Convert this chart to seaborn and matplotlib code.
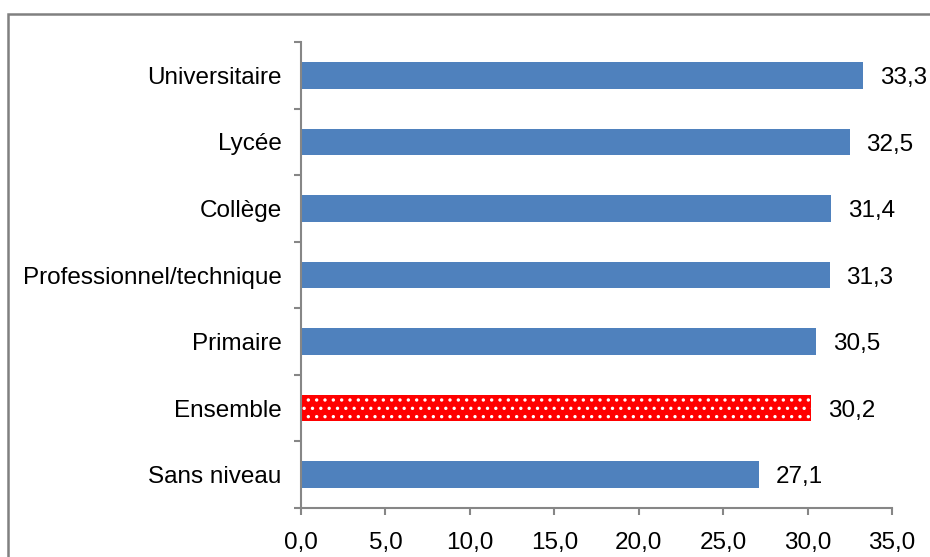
import matplotlib
matplotlib.use("Agg")
import matplotlib.pyplot as plt
import seaborn as sns
import numpy as np
from matplotlib.patches import Rectangle

categories = ["Universitaire", "Lycée", "Collège", "Professionnel/technique",
              "Primaire", "Ensemble", "Sans niveau"]
values = [33.3, 32.5, 31.4, 31.3, 30.5, 30.2, 27.1]
x_ticks = [0, 5, 10, 15, 20, 25, 30, 35]

blue = "#4F81BD"
red = "#FF0000"
grey = "#868686"
fs = 17.5

sns.set_theme(style="white")
plt.rcParams["font.family"] = ["Liberation Sans", "DejaVu Sans"]
plt.rcParams["hatch.linewidth"] = 1.2

fig = plt.figure(figsize=(9.3, 5.57), dpi=100)
ax = fig.add_axes([301 / 930, 1 - 508 / 557, 591 / 930, 466 / 557])

colors = [red if c == "Ensemble" else blue for c in categories]
sns.barplot(x=values, y=categories, hue=categories, palette=colors,
            legend=False, width=0.4, saturation=1, ax=ax, linewidth=0)

# dotted pattern on the "Ensemble" bar
for patch, cat in zip(ax.patches, categories):
    if cat == "Ensemble":
        patch.set_hatch("..")
        patch.set_edgecolor("white")
        patch.set_linewidth(0)

for cont in ax.containers:
    labels = ax.bar_label(cont, labels=[f"{v:.1f}".replace(".", ",") for v in cont.datavalues],
                          padding=12, fontsize=fs, color="black")
    for t in labels:
        t.xyann = (12, -2)

ax.set_xlim(0, 35)
ax.set_ylim(len(categories) - 0.5, -0.5)
ax.set_xticks(x_ticks)
ax.set_xticklabels([f"{t:.1f}".replace(".", ",") for t in x_ticks])
ax.set_yticks(np.arange(-0.5, len(categories), 1), minor=True)

ax.tick_params(axis="x", which="major", direction="out", length=5, width=1.5,
               color=grey, labelsize=fs, labelcolor="black", pad=12, bottom=True)
ax.tick_params(axis="y", which="major", length=0, labelsize=fs,
               labelcolor="black", pad=14)
ax.tick_params(axis="y", which="minor", direction="out", length=5, width=1.5,
               color=grey, left=True)

for side in ["top", "right"]:
    ax.spines[side].set_visible(False)
for side in ["left", "bottom"]:
    ax.spines[side].set_color(grey)
    ax.spines[side].set_linewidth(1.5)

ax.set_xlabel("")
ax.set_ylabel("")
ax.grid(False)

# chart-area border (partly outside the saved image, as in the original)
fig.patches.append(Rectangle((8 / 930, -0.1), 1.2, 1 - 14 / 557 + 0.1,
                             transform=fig.transFigure, fill=False,
                             edgecolor="#808080", linewidth=1.8))

fig.savefig("out.png", dpi=100)
